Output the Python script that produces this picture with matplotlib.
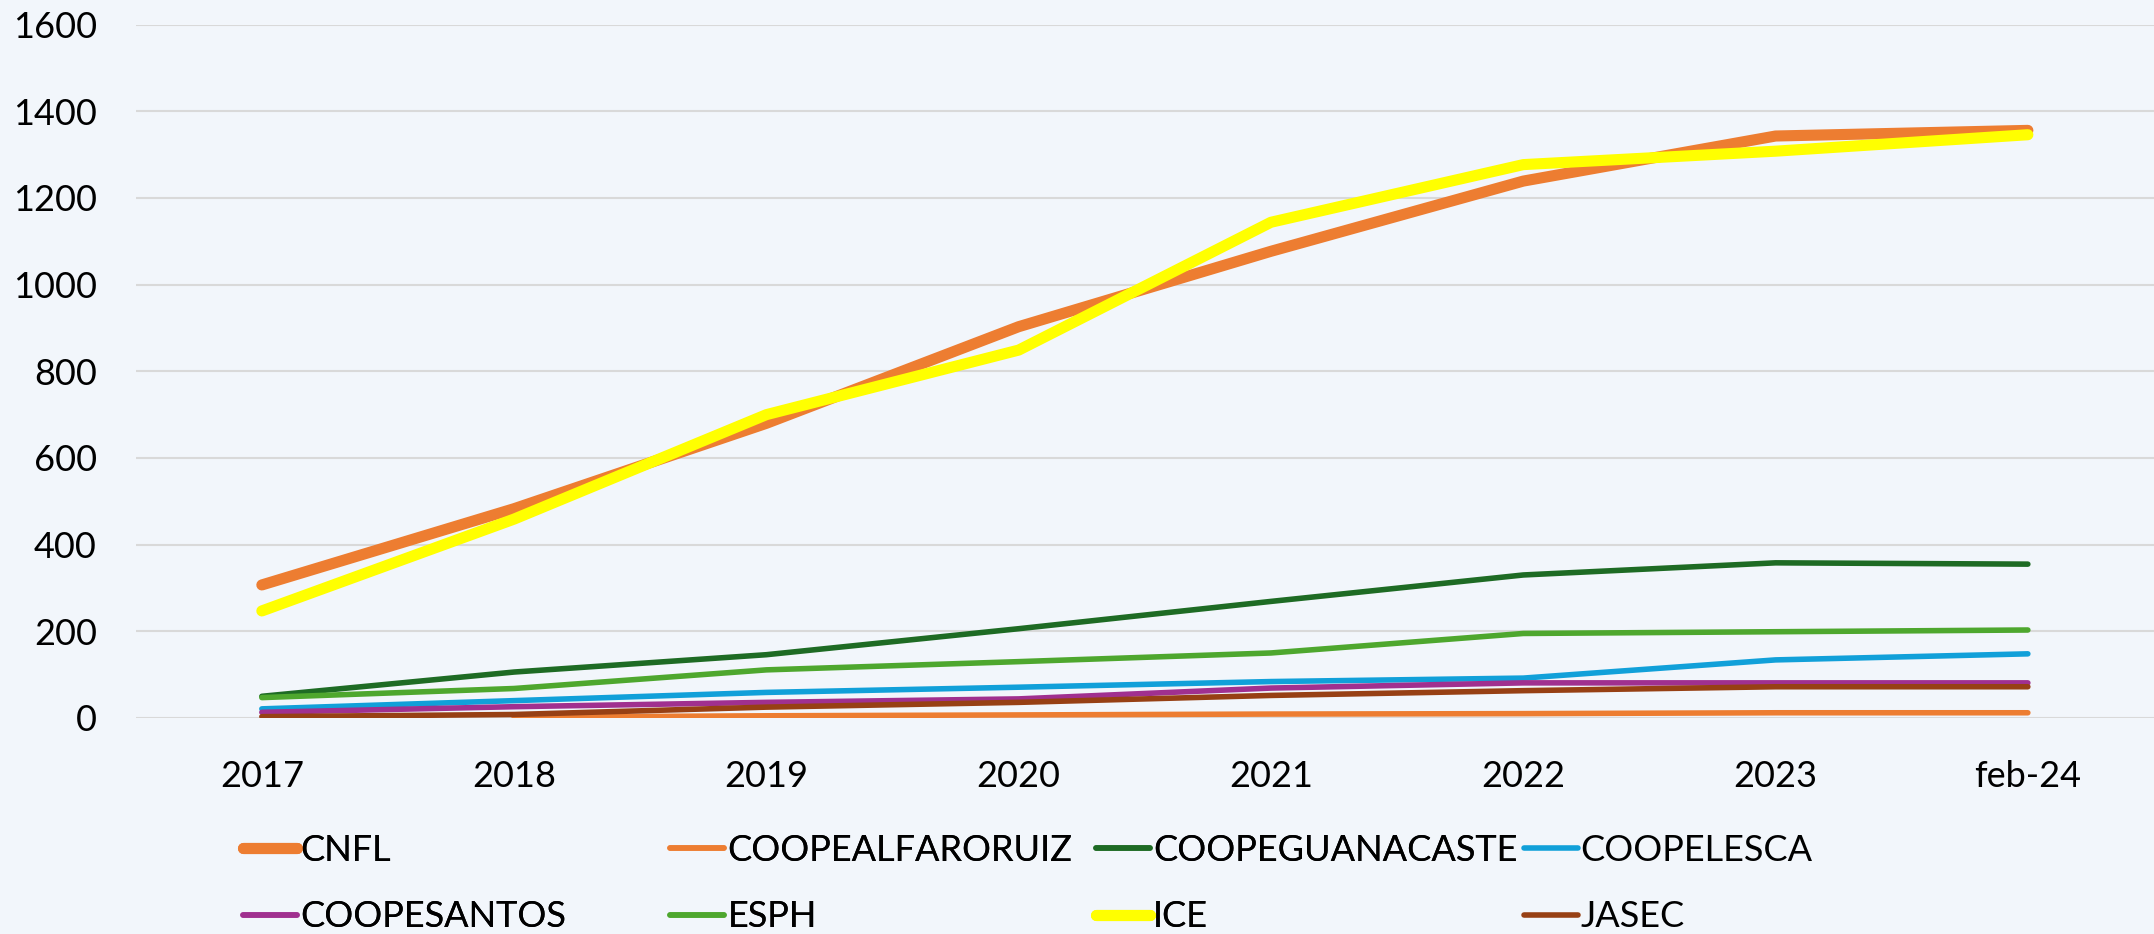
import numpy as np
import matplotlib
matplotlib.use("Agg")
import matplotlib.pyplot as plt

plt.rcParams['font.family'] = ['Lato', 'DejaVu Sans']

periods = ["2017", "2018", "2019", "2020", "2021", "2022", "2023", "feb-24"]

cnfl = [307, 483, 680, 903, 1077, 1239, 1343, 1356]
coopealfaroruiz = [np.nan, 2, 5, 7, 9, 10, 12, 12]
coopeguanacaste = [50, 106, 146, 206, 269, 330, 358, 355]
coopelesca = [21, 40, 59, 71, 84, 92, 134, 148]
coopesantos = [13, 26, 36, 44, 69, 81, 81, 81]
esph = [47, 68, 111, 130, 150, 195, 199, 203]
ice = [247, 459, 700, 849, 1144, 1277, 1308, 1346]
jasec = [3, 8, 25, 36, 52, 63, 72, 72]

series = [
    ("CNFL", cnfl, "#ED7D31", 8),
    ("COOPEALFARORUIZ", coopealfaroruiz, "#ED7D31", 4),
    ("COOPEGUANACASTE", coopeguanacaste, "#1E6B24", 4),
    ("COOPELESCA", coopelesca, "#11A0D9", 4),
    ("COOPESANTOS", coopesantos, "#A0308F", 4),
    ("ESPH", esph, "#4EA72E", 4),
    ("ICE", ice, "#FFFF00", 8),
    ("JASEC", jasec, "#974014", 4),
]

bg = "#F2F6FB"
fig = plt.figure(figsize=(21.54, 9.34), dpi=100, facecolor=bg)
ax = fig.add_axes([0.063, 0.2313, 0.937, 0.7423])
ax.set_facecolor(bg)

x = np.arange(len(periods))
lines = []
for name, vals, color, lw in series:
    ln, = ax.plot(x, vals, color=color, lw=lw, label=name,
                  solid_capstyle="round", solid_joinstyle="round")
    lines.append(ln)

ax.set_xlim(-0.5, len(periods) - 0.5)
ax.set_ylim(0, 1600)
ax.set_yticks(range(0, 1601, 200))
ax.set_xticks(x)
ax.set_xticklabels(periods)
ax.tick_params(axis="both", length=0, labelsize=26)
ax.tick_params(axis="x", pad=30)
ax.tick_params(axis="y", pad=28)
ax.grid(axis="y", color="#D9D9D9", lw=1.5)
ax.set_axisbelow(True)
for s in ax.spines.values():
    s.set_visible(False)

# legend: 4 evenly spaced columns, filled row by row
col_x = [0.1129, 0.3112, 0.5089, 0.7073]
for i in range(4):
    leg = fig.legend(handles=[lines[i], lines[i + 4]], loc="upper left",
                     bbox_to_anchor=(col_x[i], 0.107), ncol=1, frameon=False,
                     fontsize=26, handlelength=1.5, handletextpad=0.08,
                     borderpad=0, borderaxespad=0, labelspacing=0.92)
    if i < 3:
        fig.add_artist(leg)

fig.savefig("out.png", dpi=100, facecolor=bg)
